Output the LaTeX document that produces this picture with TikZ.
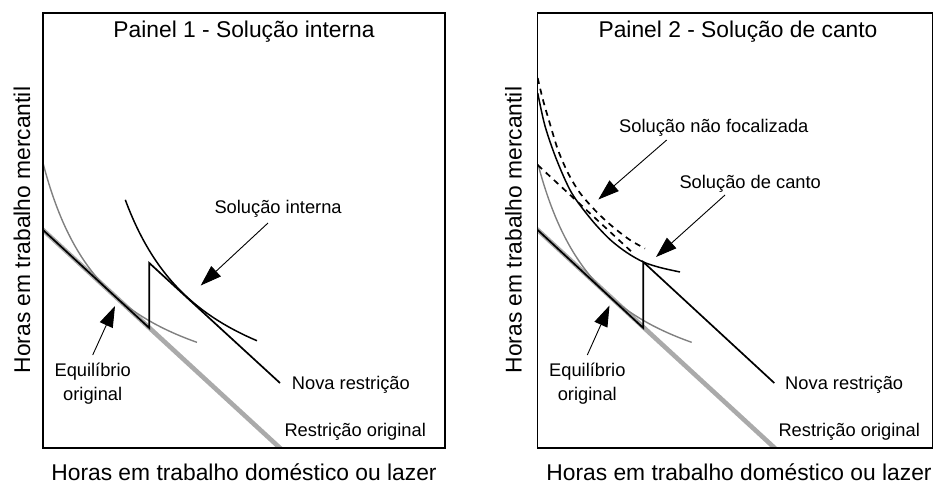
\documentclass[tikz,border=0pt]{standalone}
\usepackage{fontspec}
\setmainfont{Liberation Sans}
\usetikzlibrary{arrows.meta}
\definecolor{lightgr}{RGB}{170,170,170}
\definecolor{midgr}{RGB}{128,128,128}
\begin{document}
\begin{tikzpicture}[x=1pt,y=-1pt,
  lbl/.style={inner sep=0pt, font=\fontsize{18.3}{22}\selectfont},
  big/.style={inner sep=0pt, font=\fontsize{22.8}{27}\selectfont},
  frame/.style={draw=black, line width=1.2pt},
  oldbudget/.style={draw=lightgr, line width=4.6pt},
  oldcurve/.style={draw=midgr, line width=1.4pt},
  newbudget/.style={draw=black, line width=1.7pt, line join=miter},
  newcurve/.style={draw=black, line width=1.5pt},
  dashcurve/.style={draw=black, line width=1.7pt, dash pattern=on 6pt off 5pt},
  pointer/.style={draw=black, line width=0.9pt, -{Triangle[length=21pt,width=14pt]}}
]
\useasboundingbox (0,0) rectangle (933,483);

% ---------------- Panel 1 ----------------
\begin{scope}
\clip (43,13) rectangle (445,448);
\draw[oldbudget] (40,227.2) -- (285,452.6);
\draw[oldcurve] plot[domain=43:197, samples=80, smooth] (\x,{420.7-173.43/((\x+24.3)/100)});
\draw[newbudget] (40,227.2) -- (149.3,328) -- (149.3,263) -- (280,383);
\draw[newcurve] plot[domain=125.3:257, samples=80, smooth] (\x,{433.5-202.61/((\x-38.6)/100)});
\end{scope}
\draw[frame] (43,13) rectangle (445,448);

\node[big, anchor=base] (t1) at (244,37.5) {Painel 1 - Solução interna};
\node[big, anchor=base, rotate=90] (y1) at (30,230) {Horas em trabalho mercantil};
\node[big, anchor=base] (x1) at (244,480) {Horas em trabalho doméstico ou lazer};

\node[lbl, anchor=base west] (si1) at (214.3,213.3) {Solução interna};
\node[lbl, anchor=base] (eq1a) at (92.7,376) {Equilíbrio};
\node[lbl, anchor=base] (eq1b) at (92.7,400) {original};
\node[lbl, anchor=base west] (nr1) at (291.7,389.3) {Nova restrição};
\node[lbl, anchor=base west] (ro1) at (284.3,436.7) {Restrição original};

\coordinate (si1s) at (268,223);
\coordinate (si1t) at (200.7,285.5);
\coordinate (eq1s) at (92.7,355);
\coordinate (eq1t) at (115,306);
\draw[pointer] (si1s) -- (si1t);
\draw[pointer] (eq1s) -- (eq1t);

% ---------------- Panel 2 ----------------
\begin{scope}
\clip (537.7,13) rectangle (932.3,448);
\draw[oldbudget] (534.7,227.2) -- (779.7,452.6);
\draw[oldcurve] plot[domain=538:691.7, samples=80, smooth] (\x,{420.7-173.43/((\x-470.4)/100)});
\draw[newbudget] (534.7,227.2) -- (643.3,328) -- (643.3,262) -- (774.3,383);
\draw[newcurve] plot[smooth] coordinates {(537.7,93) (545,126) (556.7,160) (571.7,193) (591.7,220) (610,239.5) (626.7,252.5) (643.3,262) (660,267.5) (680,272)};
\draw[dashcurve] plot[smooth] coordinates {(537.7,78) (543,100) (550,124) (558,150) (568,173) (580,193) (596.7,212) (613,227) (630,240) (645,248.5)};
\draw[dashcurve] (537.7,165) -- (634,254);
\end{scope}
\draw[frame] (537.7,13) rectangle (932.3,448);

\node[big, anchor=base] (t2) at (738,37.5) {Painel 2 - Solução de canto};
\node[big, anchor=base, rotate=90] (y2) at (521.7,230) {Horas em trabalho mercantil};
\node[big, anchor=base] (x2) at (739,480) {Horas em trabalho doméstico ou lazer};

\node[lbl, anchor=base west] (nf2) at (619,132.7) {Solução não focalizada};
\node[lbl, anchor=base west] (sc2) at (679.3,188.3) {Solução de canto};
\node[lbl, anchor=base] (eq2a) at (587.3,376) {Equilíbrio};
\node[lbl, anchor=base] (eq2b) at (587.3,400) {original};
\node[lbl, anchor=base west] (nr2) at (785,389.3) {Nova restrição};
\node[lbl, anchor=base west] (ro2) at (778.3,436.7) {Restrição original};

\coordinate (nf2s) at (666.7,140);
\coordinate (nf2t) at (598.3,199.5);
\coordinate (sc2s) at (725,195);
\coordinate (sc2t) at (656,257);
\coordinate (eq2s) at (587.3,355);
\coordinate (eq2t) at (609.5,305.5);
\draw[pointer] (nf2s) -- (nf2t);
\draw[pointer] (sc2s) -- (sc2t);
\draw[pointer] (eq2s) -- (eq2t);
\end{tikzpicture}
\end{document}
